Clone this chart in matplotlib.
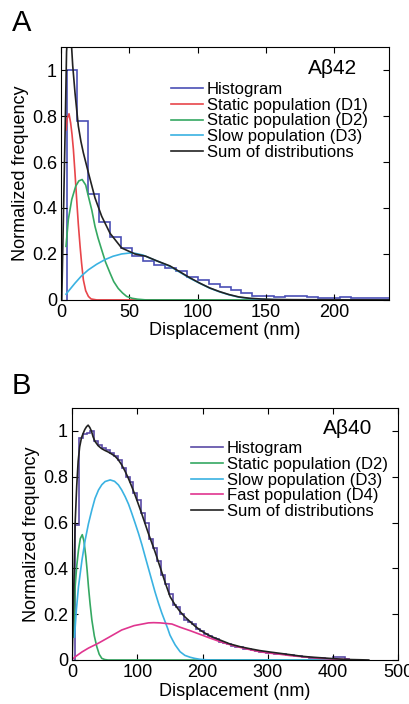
import matplotlib
matplotlib.use("Agg")
import matplotlib.pyplot as plt
import numpy as np

plt.rcParams['font.family'] = ['Liberation Sans', 'DejaVu Sans']
plt.rcParams['axes.linewidth'] = 0.8

# ---- panel A (Abeta42) ----
histA_edges = [4, 12, 20, 28, 36, 44, 52, 60, 68, 76, 84, 92, 100, 108, 116, 124,
               132, 140, 148, 156, 164, 172, 180, 188, 196, 204, 212, 220, 228, 236, 244]
histA_vals = [1.0, 0.78, 0.46, 0.34, 0.275, 0.225, 0.19, 0.168, 0.15, 0.14, 0.127, 0.10,
              0.087, 0.07, 0.057, 0.045, 0.032, 0.019, 0.015, 0.013, 0.016, 0.017, 0.014,
              0.01, 0.01, 0.012, 0.008, 0.008, 0.01, 0.008]

d1A_x = [3.6, 4.5, 5.8, 7, 8, 9, 10.2, 11.4, 12.6, 13.9, 15, 16.3, 18, 20, 22, 26, 240]
d1A_y = [0.74, 0.79, 0.81, 0.77, 0.72, 0.655, 0.55, 0.437, 0.33, 0.233, 0.16, 0.087,
         0.04, 0.015, 0.004, 0, 0]

d2A_x = [3.6, 5.3, 7.8, 10.7, 13, 15.4, 18, 20, 22.5, 24.8, 27, 29.7, 32.5, 35.8, 38.5,
         41.8, 45, 48, 52, 56, 62, 240]
d2A_y = [0.233, 0.35, 0.437, 0.495, 0.518, 0.524, 0.5, 0.45, 0.39, 0.32, 0.27, 0.218,
         0.165, 0.117, 0.08, 0.05, 0.03, 0.015, 0.007, 0.003, 0, 0]

d3A_x = [3.6, 10.2, 15, 20, 26, 32, 38, 44.3, 50, 54, 60, 65, 72, 79.6, 87, 94, 101.5,
         108.8, 116, 123, 130, 138, 146, 155, 170, 240]
d3A_y = [0.025, 0.073, 0.105, 0.131, 0.155, 0.175, 0.19, 0.2, 0.204, 0.203, 0.195, 0.182,
         0.165, 0.146, 0.12, 0.095, 0.072, 0.051, 0.035, 0.022, 0.012, 0.006, 0.003,
         0.001, 0, 0]

sumA_x = [0.5, 2, 3, 4, 5.5, 7, 8.5, 10.2, 12.6, 14.5, 16.3, 20, 24.8, 29.7, 35.8, 44.3,
          54, 62, 70, 79.6, 87, 94, 101.5, 108.8, 116, 123, 130, 138, 146, 155, 170, 240]
sumA_y = [0, 0.45, 0.75, 1.08, 1.22, 1.17, 1.02, 0.9, 0.757, 0.69, 0.64, 0.553, 0.444,
          0.364, 0.29, 0.226, 0.2, 0.19, 0.17, 0.148, 0.122, 0.097, 0.073, 0.052, 0.036,
          0.023, 0.013, 0.007, 0.004, 0.002, 0.001, 0.0]

# ---- panel B (Abeta40) ----
histB_edges = list(range(4, 431, 6))
histB_vals = [0.59, 0.97, 0.985, 0.99, 1.0, 0.955, 0.94, 0.925, 0.915, 0.905, 0.89, 0.875,
              0.84, 0.80, 0.775, 0.73, 0.70, 0.64, 0.60, 0.53, 0.49, 0.43, 0.37, 0.33,
              0.29, 0.24, 0.23, 0.20, 0.175, 0.165, 0.155, 0.135, 0.125, 0.115, 0.105,
              0.095, 0.09, 0.078, 0.075, 0.068, 0.062, 0.058, 0.055, 0.05, 0.047, 0.044,
              0.04, 0.037, 0.035, 0.032, 0.03, 0.028, 0.028, 0.025, 0.022, 0.02, 0.018,
              0.016, 0.014, 0.012, 0.01, 0.01, 0.008, 0.007, 0.006, 0.005, 0.012, 0.015,
              0.015, 0.006, 0.002]

d2B_x = [2, 4.6, 7, 9.7, 12.5, 15.5, 18, 21, 23, 25, 27.5, 30.2, 34, 37.8, 41.5, 45.5,
         50, 55, 430]
d2B_y = [0.1, 0.32, 0.41, 0.48, 0.53, 0.547, 0.52, 0.451, 0.39, 0.32, 0.245, 0.175,
         0.105, 0.058, 0.025, 0.007, 0.002, 0, 0]

d3B_x = [3.6, 6.5, 9.7, 15, 20, 25, 30.2, 35, 40.4, 45.5, 50.6, 58.3, 65, 71, 76, 81.3,
         86.5, 91.5, 96.5, 101.7, 107, 112, 117, 122, 127, 132.4, 137.5, 142.6, 146.5,
         150, 154, 158, 162, 165.6, 173, 181, 188, 196, 205, 215, 430]
d3B_y = [0.10, 0.22, 0.32, 0.435, 0.524, 0.595, 0.655, 0.705, 0.742, 0.765, 0.779, 0.786,
         0.78, 0.764, 0.742, 0.713, 0.68, 0.64, 0.598, 0.553, 0.503, 0.451, 0.40, 0.349,
         0.298, 0.248, 0.205, 0.167, 0.138, 0.109, 0.087, 0.066, 0.05, 0.036, 0.02,
         0.012, 0.007, 0.003, 0.001, 0, 0]

d4B_x = [2, 4.6, 15, 25, 40, 55, 76, 95, 117, 125, 135, 153, 165.6, 181, 196, 211, 227,
         242, 257.7, 273, 288, 303, 319, 335, 350, 365, 380, 395, 411, 425]
d4B_y = [0.007, 0.014, 0.035, 0.052, 0.073, 0.097, 0.131, 0.15, 0.162, 0.163, 0.162,
         0.157, 0.143, 0.128, 0.112, 0.096, 0.08, 0.067, 0.055, 0.045, 0.036, 0.03,
         0.025, 0.019, 0.015, 0.011, 0.007, 0.005, 0.003, 0.002]

sumB_x = [0, 2, 4.6, 7, 9.2, 11.5, 14.3, 17, 19.4, 22, 24.5, 27, 29.6, 32, 34.8, 40, 45,
          50, 55.2, 60, 65.5, 70.5, 75.7, 80.8, 85.9, 91, 96.2, 101.3, 106.3, 111.5,
          116.6, 121.7, 126.8, 131.5, 136, 143, 150.3, 158, 165.6, 173, 181, 188, 196,
          204, 211.7, 219, 227, 235, 242, 250, 257.7, 273, 288, 303, 319, 335, 350, 365,
          380, 395, 411, 426, 442, 455]
sumB_y = [0, 0.25, 0.6, 0.76, 0.868, 0.93, 0.97, 0.99, 1.006, 1.018, 1.025, 1.015, 0.999,
          0.975, 0.955, 0.935, 0.923, 0.915, 0.908, 0.9, 0.89, 0.875, 0.853, 0.826, 0.795,
          0.76, 0.722, 0.682, 0.642, 0.598, 0.555, 0.515, 0.475, 0.435, 0.396, 0.335,
          0.276, 0.24, 0.211, 0.188, 0.167, 0.149, 0.131, 0.117, 0.105, 0.096, 0.087,
          0.078, 0.07, 0.064, 0.058, 0.049, 0.041, 0.035, 0.029, 0.023, 0.017, 0.013,
          0.01, 0.007, 0.004, 0.002, 0.001, 0]

yticks = [0, 0.2, 0.4, 0.6, 0.8, 1]
ytick_labels = ["0", "0.2", "0.4", "0.6", "0.8", "1"]

c_hist = "#4a4fb5"
c_histB = "#5a4aa6"
c_red = "#e8454a"
c_green = "#35a862"
c_cyan = "#3ab2e2"
c_mag = "#e0358f"
c_black = "#222222"
lw = 1.2

fig = plt.figure(figsize=(4.1, 7.04), dpi=100)
axA = fig.add_axes([0.149, 0.574, 0.80, 0.359])
axB = fig.add_axes([0.176, 0.0625, 0.795, 0.358])


def style(ax, xlim, xticks):
    ax.set_xlim(xlim)
    ax.set_ylim(0, 1.1)
    ax.set_xticks(xticks)
    ax.set_yticks(yticks)
    ax.set_yticklabels(ytick_labels)
    ax.tick_params(direction='in', top=True, right=True, length=4, width=0.8,
                   labelsize=13, pad=3)
    ax.set_xlabel("Displacement (nm)", fontsize=13, labelpad=1)
    ax.set_ylabel("Normalized frequency", fontsize=13, labelpad=2)


# panel A
axA.stairs(histA_vals, histA_edges, baseline=0, color=c_hist, lw=lw, label="Histogram")
axA.plot(d1A_x, d1A_y, color=c_red, lw=lw, label="Static population (D1)")
axA.plot(d2A_x, d2A_y, color=c_green, lw=lw, label="Static population (D2)")
axA.plot(d3A_x, d3A_y, color=c_cyan, lw=lw, label="Slow population (D3)")
axA.plot(sumA_x, sumA_y, color=c_black, lw=lw, label="Sum of distributions")
style(axA, (0, 240), [0, 50, 100, 150, 200])
axA.text(0.902, 0.917, "A\u03b242", transform=axA.transAxes, ha='right', va='center',
         fontsize=15)
axA.legend(loc='upper left', bbox_to_anchor=(0.335, 0.862), frameon=False, fontsize=12,
           handlelength=1.9, handletextpad=0.25, labelspacing=0.04, borderpad=0,
           borderaxespad=0)

# panel B
axB.stairs(histB_vals, histB_edges, baseline=0, color=c_histB, lw=lw, label="Histogram")
axB.plot(d2B_x, d2B_y, color=c_green, lw=lw, label="Static population (D2)")
axB.plot(d3B_x, d3B_y, color=c_cyan, lw=lw, label="Slow population (D3)")
axB.plot(d4B_x, d4B_y, color=c_mag, lw=lw, label="Fast population (D4)")
axB.plot(sumB_x, sumB_y, color=c_black, lw=lw, label="Sum of distributions")
style(axB, (0, 500), [0, 100, 200, 300, 400, 500])
axB.text(0.92, 0.92, "A\u03b240", transform=axB.transAxes, ha='right', va='center',
         fontsize=15)
axB.legend(loc='upper left', bbox_to_anchor=(0.365, 0.868), frameon=False, fontsize=12,
           handlelength=1.9, handletextpad=0.25, labelspacing=0.04, borderpad=0,
           borderaxespad=0)

fig.text(0.028, 0.967, "A", fontsize=21, ha='left', va='center')
fig.text(0.028, 0.452, "B", fontsize=21, ha='left', va='center')

fig.savefig("out.png", dpi=100, facecolor='white')
